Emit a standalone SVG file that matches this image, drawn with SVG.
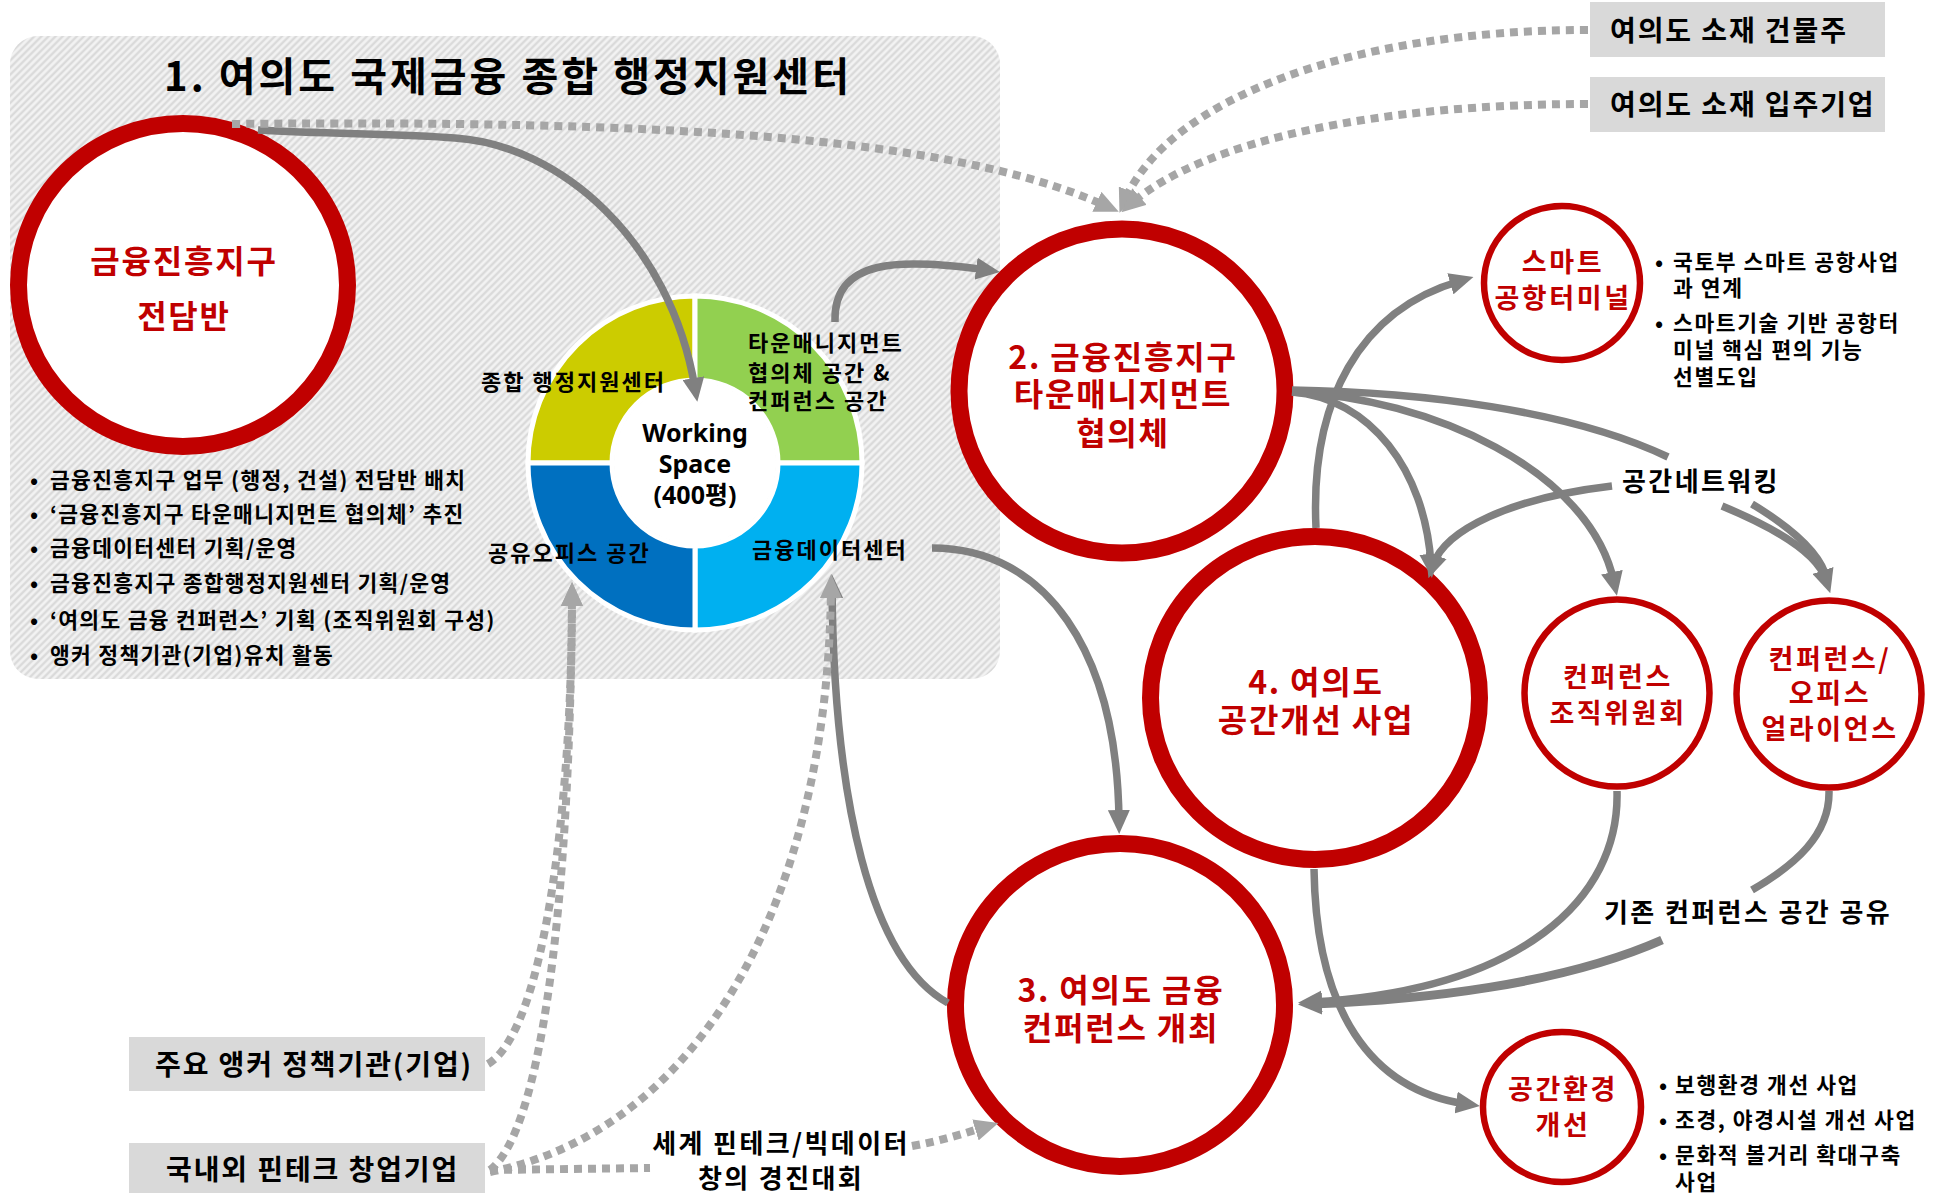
<svg xmlns="http://www.w3.org/2000/svg" width="1936" height="1193" viewBox="0 0 1936 1193">
<defs>
<pattern id="hatch" patternUnits="userSpaceOnUse" width="5" height="5" patternTransform="rotate(45)">
<rect width="5" height="5" fill="#dadada"/>
<line x1="2.5" y1="0" x2="2.5" y2="5" stroke="#f4f4f4" stroke-width="2.5"/>
</pattern>
<marker id="ah" viewBox="0 0 12 11" refX="5" refY="5.5" markerUnits="userSpaceOnUse" markerWidth="24" markerHeight="22" orient="auto">
<path d="M0,0 L12,5.5 L0,11 z" fill="#808080"/>
</marker>
<marker id="ahd" viewBox="0 0 12 11" refX="5" refY="5.5" markerUnits="userSpaceOnUse" markerWidth="24" markerHeight="22" orient="auto">
<path d="M0,0 L12,5.5 L0,11 z" fill="#a6a6a6"/>
</marker>
</defs>
<style>
text{font-family:'Noto Sans CJK KR','Noto Sans',sans-serif;font-weight:700;}
.big{fill:#fff;stroke:#c00000;stroke-width:17;}
.sm{fill:#fff;stroke:#c00000;stroke-width:6.5;}
.nt{fill:#c00000;text-anchor:middle;font-size:32px;letter-spacing:1.8px;}
.st{fill:#c00000;text-anchor:middle;font-size:27px;letter-spacing:2.6px;}
.bl{fill:#000;font-size:21.5px;letter-spacing:1.3px;}
.br{fill:#000;font-size:21.5px;letter-spacing:1.6px;}
.lb{fill:#000;font-size:26px;letter-spacing:2.4px;}
.bx{fill:#d9d9d9;}
.bxt{fill:#000;font-size:28px;letter-spacing:1.9px;}
.dl{fill:#000;font-size:22px;letter-spacing:2px;}
.sol{fill:none;stroke:#808080;stroke-width:7.5;}
.dot{fill:none;stroke:#a6a6a6;stroke-width:8;stroke-dasharray:8 6;}
</style>
<rect width="1936" height="1193" fill="#fff"/>

<g id="panel">
<rect x="10" y="36" width="990" height="643" rx="28" fill="url(#hatch)"/>
<text x="508" y="91" text-anchor="middle" font-size="40" letter-spacing="3" fill="#000">1. 여의도 국제금융 종합 행정지원센터</text>
<g class="bl">
<text x="30" y="488">•</text><text x="50" y="488">금융진흥지구 업무 (행정, 건설) 전담반 배치</text>
<text x="30" y="522">•</text><text x="50" y="522">‘금융진흥지구 타운매니지먼트 협의체’ 추진</text>
<text x="30" y="556">•</text><text x="50" y="556">금융데이터센터 기획/운영</text>
<text x="30" y="591">•</text><text x="50" y="591">금융진흥지구 종합행정지원센터 기획/운영</text>
<text x="30" y="628">•</text><text x="50" y="628">‘여의도 금융 컨퍼런스’ 기획 (조직위원회 구성)</text>
<text x="30" y="663">•</text><text x="50" y="663">앵커 정책기관(기업)유치 활동</text>
</g>
</g>

<g id="node-team">
<ellipse class="big" cx="183" cy="285" rx="164.5" ry="161.5"/>
<text class="nt" x="184" y="273" font-size="31" letter-spacing="2.2">금융진흥지구</text>
<text class="nt" x="184" y="328" font-size="31" letter-spacing="2.2">전담반</text>
</g>

<g id="node-donut">
<path d="M528 463 A167 167 0 0 1 695 296 L695 380 A83 83 0 0 0 612 463 Z" fill="#cccc00" stroke="#fff" stroke-width="5"/>
<path d="M695 296 A167 167 0 0 1 862 463 L778 463 A83 83 0 0 0 695 380 Z" fill="#92d050" stroke="#fff" stroke-width="5"/>
<path d="M862 463 A167 167 0 0 1 695 630 L695 546 A83 83 0 0 0 778 463 Z" fill="#00b0f0" stroke="#fff" stroke-width="5"/>
<path d="M695 630 A167 167 0 0 1 528 463 L612 463 A83 83 0 0 0 695 546 Z" fill="#0070c0" stroke="#fff" stroke-width="5"/>
<circle cx="695" cy="463" r="81" fill="#fff"/>
<text x="695" y="442" text-anchor="middle" font-size="25" style="font-family:'Noto Sans','Noto Sans CJK KR',sans-serif">Working</text>
<text x="695" y="473" text-anchor="middle" font-size="25" style="font-family:'Noto Sans','Noto Sans CJK KR',sans-serif">Space</text>
<text x="695" y="504" text-anchor="middle" font-size="25" style="font-family:'Noto Sans','Noto Sans CJK KR',sans-serif">(400평)</text>
<text class="dl" x="481" y="390">종합 행정지원센터</text>
<text class="dl" x="748" y="351">타운매니지먼트</text>
<text class="dl" x="748" y="381">협의체 공간 &amp;</text>
<text class="dl" x="748" y="409">컨퍼런스 공간</text>
<text class="dl" x="488" y="561">공유오피스 공간</text>
<text class="dl" x="752" y="558">금융데이터센터</text>
</g>

<g id="node-2">
<ellipse class="big" cx="1122" cy="391" rx="163" ry="162"/>
<text class="nt" x="1123" y="369">2. 금융진흥지구</text>
<text class="nt" x="1123" y="406">타운매니지먼트</text>
<text class="nt" x="1123" y="445">협의체</text>
</g>

<g id="node-4">
<ellipse class="big" cx="1315" cy="698" rx="164.5" ry="161.5"/>
<text class="nt" x="1316" y="694">4. 여의도</text>
<text class="nt" x="1316" y="732">공간개선 사업</text>
</g>

<g id="node-3">
<ellipse class="big" cx="1120" cy="1005" rx="164.5" ry="161.5"/>
<text class="nt" x="1121" y="1002">3. 여의도 금융</text>
<text class="nt" x="1121" y="1040">컨퍼런스 개최</text>
</g>

<g id="node-smart">
<ellipse class="sm" cx="1562" cy="283" rx="78" ry="77"/>
<text class="st" x="1563" y="272">스마트</text>
<text class="st" x="1563" y="308">공항터미널</text>
<g class="br">
<text x="1655" y="270">•</text><text x="1673" y="270">국토부 스마트 공항사업</text>
<text x="1673" y="296">과 연계</text>
<text x="1655" y="331">•</text><text x="1673" y="331">스마트기술 기반 공항터</text>
<text x="1673" y="358">미널 핵심 편의 기능</text>
<text x="1673" y="385">선별도입</text>
</g>
</g>

<g id="node-committee">
<ellipse class="sm" cx="1617" cy="693" rx="92.5" ry="93.5"/>
<text class="st" x="1618" y="687">컨퍼런스</text>
<text class="st" x="1618" y="723">조직위원회</text>
</g>

<g id="node-alliance">
<ellipse class="sm" cx="1829" cy="694" rx="92.5" ry="93.5"/>
<text class="st" x="1830" y="669">컨퍼런스/</text>
<text class="st" x="1830" y="703">오피스</text>
<text class="st" x="1830" y="739">얼라이언스</text>
</g>

<g id="node-env">
<ellipse class="sm" cx="1562" cy="1107" rx="79" ry="75"/>
<text class="st" x="1563" y="1099">공간환경</text>
<text class="st" x="1563" y="1135">개선</text>
<g class="br">
<text x="1659" y="1093">•</text><text x="1675" y="1093">보행환경 개선 사업</text>
<text x="1659" y="1128">•</text><text x="1675" y="1128">조경, 야경시설 개선 사업</text>
<text x="1659" y="1163">•</text><text x="1675" y="1163">문화적 볼거리 확대구축</text>
<text x="1675" y="1190">사업</text>
</g>
</g>

<g id="box-owner">
<rect class="bx" x="1590" y="2" width="295" height="55"/>
<text class="bxt" x="1610" y="41">여의도 소재 건물주</text>
</g>
<g id="box-tenant">
<rect class="bx" x="1590" y="77" width="295" height="55"/>
<text class="bxt" x="1610" y="115">여의도 소재 입주기업</text>
</g>
<g id="box-anchor">
<rect class="bx" x="129" y="1037" width="356" height="54"/>
<text class="bxt" x="155" y="1075">주요 앵커 정책기관(기업)</text>
</g>
<g id="box-fintech">
<rect class="bx" x="129" y="1143" width="356" height="50"/>
<text class="bxt" x="166" y="1180" font-size="29" letter-spacing="2">국내외 핀테크 창업기업</text>
</g>
<g id="label-contest">
<text class="lb" x="781" y="1153" text-anchor="middle" font-size="26.5">세계 핀테크/빅데이터</text>
<text class="lb" x="781" y="1188" text-anchor="middle" font-size="26.5">창의 경진대회</text>
</g>
<g id="label-network">
<text class="lb" x="1622" y="491">공간네트워킹</text>
</g>
<g id="label-share">
<text class="lb" x="1604" y="922" letter-spacing="2.1">기존 컨퍼런스 공간 공유</text>
</g>

<g id="connectors">
<path class="sol" d="M258 130 C330 134 400 134 455 138 C560 145 670 240 695 388" marker-end="url(#ah)"/>
<path class="sol" d="M835 322 C833 258 900 258 986 270" marker-end="url(#ah)"/>
<path class="sol" d="M932 548 C1045 548 1117 650 1119 820" marker-end="url(#ah)"/>
<path class="sol" d="M948 1003 C870 960 834 800 832 588" marker-end="url(#ah)"/>
<path class="sol" d="M1316 528 C1310 400 1360 310 1460 281" marker-end="url(#ah)"/>
<path class="sol" d="M1292 392 C1370 398 1425 470 1431 564" marker-end="url(#ah)"/>
<path class="sol" d="M1292 392 C1430 398 1590 470 1614 582" marker-end="url(#ah)"/>
<path class="sol" d="M1612 486 C1510 498 1445 530 1433 565" marker-end="url(#ah)"/>
<path class="sol" d="M1292 390 C1420 392 1570 410 1668 457"/>
<path class="sol" d="M1752 504 C1795 530 1822 555 1827 580"/>
<path class="sol" d="M1722 506 C1780 530 1818 555 1826 580" marker-end="url(#ah)"/>
<path class="sol" d="M1314 869 C1316 1010 1370 1090 1466 1104" marker-end="url(#ah)"/>
<path class="sol" d="M1617 791 C1620 900 1520 990 1312 1002" marker-end="url(#ah)"/>
<path class="sol" d="M1829 791 C1830 835 1795 865 1752 890"/>
<path class="sol" style="stroke-width:9" d="M1662 940 C1560 985 1420 1000 1312 1004" marker-end="url(#ah)"/>
<path class="dot" d="M232 124 C650 120 950 135 1106 206" marker-end="url(#ahd)"/>
<path class="dot" d="M1588 30 C1350 30 1168 100 1125 200" marker-end="url(#ahd)"/>
<path class="dot" d="M1588 104 C1380 104 1205 140 1132 203" marker-end="url(#ahd)"/>
<path class="dot" d="M488 1064 C545 1030 572 800 572 596" marker-end="url(#ahd)"/>
<path class="dot" d="M490 1170 C542 1130 570 900 572 596" marker-end="url(#ahd)"/>
<path class="dot" d="M490 1172 C700 1130 828 900 831 588" marker-end="url(#ahd)"/>
<path class="dot" d="M490 1170 L650 1168"/>
<path class="dot" d="M912 1146 C945 1140 962 1134 985 1127" marker-end="url(#ahd)"/>
</g>
</svg>
